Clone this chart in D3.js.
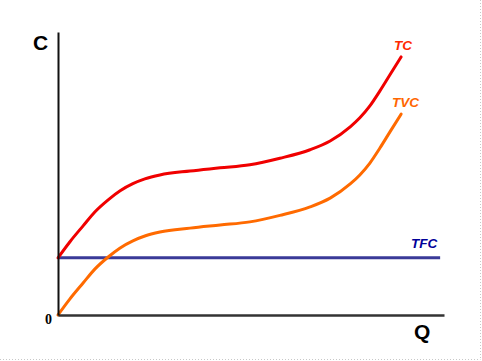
<!DOCTYPE html>
<html><head><meta charset="utf-8">
<script src="https://cdn.jsdelivr.net/npm/d3@7/dist/d3.min.js"></script>
<style>html,body{margin:0;padding:0;background:#fff;}svg{display:block;}</style>
</head><body>
<svg id="chart" width="482" height="361"></svg>
<script>
// Quantity (Q) and Total Variable Cost (TVC) readings
const qValues   = [0, 3.1, 6.5, 9.6, 13.0, 16.1, 19.4, 22.5, 26.4, 34.2, 42.0, 49.7, 57.5, 65.3, 70.5, 75.7, 78.2, 80.8, 83.4, 86.0, 88.9];
const tvcValues = [0, 5.7, 11.3, 16.3, 20.5, 23.7, 26.2, 27.9, 29.3, 30.7, 31.8, 32.9, 35.2, 38.2, 41.3, 46.3, 49.5, 53.7, 59.0, 64.7, 71.0];
const tfcValue = 20.2;
const tfcRange = [0, 99];
const tcValues = tvcValues.map(v => v + tfcValue);
const seriesLabels = ["TC", "TVC", "TFC"];
const axisLabels = {x: "Q", y: "C", origin: "0"};

const svg = d3.select("#chart");
const x = d3.scaleLinear().domain([0, 100]).range([58, 444]);
const y = d3.scaleLinear().domain([0, 100]).range([315, 32]);

// dotted frame (right and bottom edges)
svg.append("line").attr("x1", 480.5).attr("x2", 480.5).attr("y1", 0).attr("y2", 359.5)
  .attr("stroke", "#c8c8c8").attr("stroke-dasharray", "1,2");
svg.append("line").attr("x1", 0).attr("x2", 480.5).attr("y1", 359.5).attr("y2", 359.5)
  .attr("stroke", "#c8c8c8").attr("stroke-dasharray", "1,2");

const line = d3.line().x(d => x(d[0])).y(d => y(d[1])).curve(d3.curveMonotoneX);

// TFC
svg.append("line").attr("x1", x(tfcRange[0])).attr("x2", x(tfcRange[1]))
  .attr("y1", y(tfcValue)).attr("y2", y(tfcValue))
  .attr("stroke", "#3a3a98").attr("stroke-width", 3);

// TVC
svg.append("path").datum(qValues.map((q, i) => [q, tvcValues[i]]))
  .attr("d", line).attr("fill", "none").attr("stroke", "#ff6a00").attr("stroke-width", 3)
  .attr("stroke-linecap", "round");
// TC
svg.append("path").datum(qValues.map((q, i) => [q, tcValues[i]]))
  .attr("d", line).attr("fill", "none").attr("stroke", "#f00000").attr("stroke-width", 3)
  .attr("stroke-linecap", "round");

// axes
const xAxis = d3.axisBottom(x).ticks(0).tickSize(0).tickSizeOuter(0);
const yAxis = d3.axisLeft(y).ticks(0).tickSize(0).tickSizeOuter(0);
svg.append("g").attr("transform", `translate(0,${y(0)})`).call(xAxis)
  .select(".domain").attr("stroke", "#333").attr("stroke-width", 2.5);
svg.append("g").attr("transform", `translate(${x(0)},0)`).call(yAxis)
  .select(".domain").attr("stroke", "#111").attr("stroke-width", 2);

// axis labels
svg.append("text").attr("x", 33).attr("y", 50).text(axisLabels.y)
  .attr("font-family", "Liberation Sans, Arial, sans-serif").attr("font-weight", "bold").attr("font-size", 21).attr("fill", "#000");
svg.append("text").attr("x", 414).attr("y", 339).text(axisLabels.x)
  .attr("font-family", "Liberation Sans, Arial, sans-serif").attr("font-weight", "bold").attr("font-size", 21).attr("fill", "#000");
svg.append("text").attr("x", 45).attr("y", 324).text(axisLabels.origin)
  .attr("font-family", "Liberation Serif, Times New Roman, serif").attr("font-weight", "bold").attr("font-size", 14).attr("fill", "#000");

// series labels
const lab = (t, px, py, col) => svg.append("text").attr("x", px).attr("y", py).text(t)
  .attr("font-family", "Liberation Sans, Arial, sans-serif").attr("font-weight", "bold")
  .attr("font-style", "italic").attr("font-size", 13.5).attr("fill", col);
lab(seriesLabels[0], 394, 50, "#ff2a00");
lab(seriesLabels[1], 392, 107, "#ff6600");
lab(seriesLabels[2], 411, 248, "#000099");
</script>
</body></html>
